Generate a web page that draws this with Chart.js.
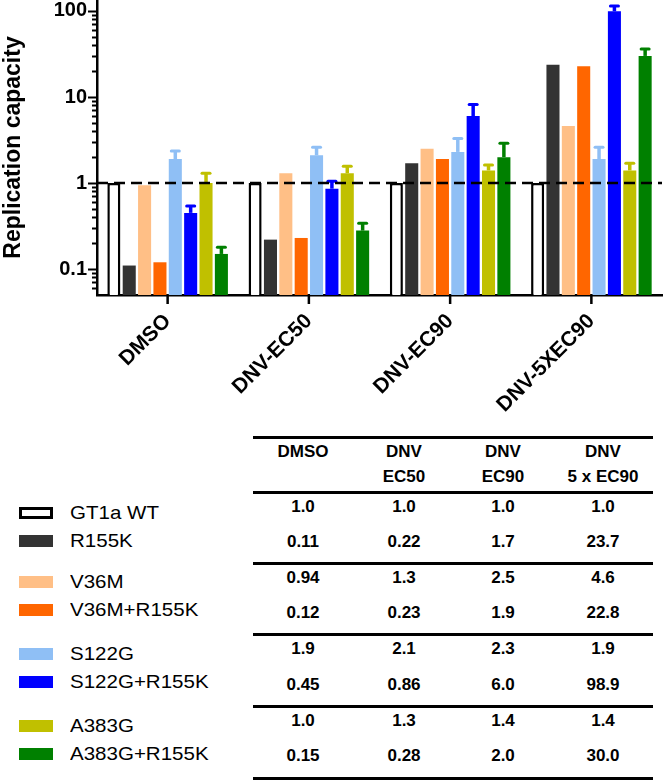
<!DOCTYPE html>
<html>
<head>
<meta charset="utf-8">
<script src="https://cdn.jsdelivr.net/npm/chart.js@4.4.1/dist/chart.umd.min.js"></script>
<style>
  body { margin: 0; background: #fff; font-family: "Liberation Sans", Arial, sans-serif; color: #000; }
  #wrap { position: relative; width: 666px; height: 781px; overflow: hidden; }
  #chart { position: absolute; left: 0; top: 0; }
  .rule { position: absolute; left: 253px; width: 400px; height: 3px; background: #000; }
  .cell { position: absolute; width: 110px; margin-left: -55px; text-align: center; font-weight: bold; font-size: 17px; line-height: 20px; }
  .sw { position: absolute; left: 19px; width: 34px; height: 12px; box-sizing: border-box; }
  .lab { position: absolute; left: 70px; font-size: 19px; line-height: 20px; white-space: nowrap;
         transform: scaleX(1.08); transform-origin: left center; }
</style>
</head>
<body>
<div id="wrap">
  <canvas id="chart" width="666" height="435"></canvas>
  <div id="table"></div>
</div>
<script>
// categories and series
const categories = ["DMSO", "DNV-EC50", "DNV-EC90", "DNV-5XEC90"];
const tableHeaders = [["DMSO"], ["DNV", "EC50"], ["DNV", "EC90"], ["DNV", "5 x EC90"]];

const gt1aWT      = [1.0, 1.0, 1.0, 1.0];
const r155k       = [0.11, 0.22, 1.7, 23.7];
const v36m        = [0.94, 1.3, 2.5, 4.6];
const v36mR155k   = [0.12, 0.23, 1.9, 22.8];
const s122g       = [1.9, 2.1, 2.3, 1.9];
const s122gR155k  = [0.45, 0.86, 6.0, 98.9];
const a383g       = [1.0, 1.3, 1.4, 1.4];
const a383gR155k  = [0.15, 0.28, 2.0, 30.0];

// upper end of error bars
const s122gErr      = [2.35, 2.6, 3.3, 2.6];
const s122gR155kErr = [0.54, 1.05, 8.2, 114];
const a383gErr      = [1.3, 1.57, 1.62, 1.7];
const a383gR155kErr = [0.18, 0.34, 2.9, 36];

const yMajor = [0.1, 1, 10, 100];
const yMinor = [0.06, 0.07, 0.08, 0.09, 0.2, 0.3, 0.4, 0.5, 0.6, 0.7, 0.8, 0.9,
                2, 3, 4, 5, 6, 7, 8, 9, 20, 30, 40, 50, 60, 70, 80, 90];

const FONT = "'Liberation Sans', Arial, sans-serif";
Chart.defaults.font.family = FONT;
Chart.defaults.color = '#000';

const series = [
  { label: 'GT1a WT',     data: gt1aWT,     color: '#ffffff', border: '#000000' },
  { label: 'R155K',       data: r155k,      color: '#333333' },
  { label: 'V36M',        data: v36m,       color: '#ffbf86' },
  { label: 'V36M+R155K',  data: v36mR155k,  color: '#ff6600' },
  { label: 'S122G',       data: s122g,      color: '#8fbff5', err: s122gErr },
  { label: 'S122G+R155K', data: s122gR155k, color: '#0000ff', err: s122gR155kErr },
  { label: 'A383G',       data: a383g,      color: '#c0c000', err: a383gErr },
  { label: 'A383G+R155K', data: a383gR155k, color: '#008000', err: a383gR155kErr }
];

// error bars, dashed line at 1 and the tick marks
const extras = {
  id: 'extras',
  afterDatasetsDraw(chart) {
    const ctx = chart.ctx, xs = chart.scales.x, ys = chart.scales.y, area = chart.chartArea;
    ctx.save();
    chart.data.datasets.forEach((ds, i) => {
      if (!ds.errTop) return;
      chart.getDatasetMeta(i).data.forEach((bar, j) => {
        const top = ys.getPixelForValue(ds.errTop[j]);
        ctx.strokeStyle = ds.backgroundColor;
        ctx.lineWidth = 3.5;
        ctx.beginPath(); ctx.moveTo(bar.x, bar.y); ctx.lineTo(bar.x, top); ctx.stroke();
        ctx.lineWidth = 3;
        ctx.lineCap = 'round';
        ctx.beginPath(); ctx.moveTo(bar.x - 4, top); ctx.lineTo(bar.x + 4, top); ctx.stroke();
        ctx.lineCap = 'butt';
      });
    });

    const y1 = ys.getPixelForValue(1);
    ctx.strokeStyle = '#000';
    ctx.lineWidth = 2.5;
    ctx.setLineDash([11, 6]);
    ctx.beginPath(); ctx.moveTo(area.left, y1); ctx.lineTo(area.right, y1); ctx.stroke();
    ctx.setLineDash([]);

    ctx.lineWidth = 2;
    yMajor.concat(yMinor).forEach(v => {
      const py = Math.round(ys.getPixelForValue(v)) + 0.5;
      const len = yMajor.includes(v) ? 9 : 5;
      ctx.beginPath(); ctx.moveTo(area.left, py); ctx.lineTo(area.left - len, py); ctx.stroke();
    });
    ctx.lineWidth = 2.5;
    categories.forEach((c, i) => {
      const px = xs.getPixelForValue(i);
      ctx.beginPath(); ctx.moveTo(px, area.bottom); ctx.lineTo(px, area.bottom + 9); ctx.stroke();
    });
    ctx.restore();
  }
};

new Chart(document.getElementById('chart'), {
  type: 'bar',
  data: {
    labels: categories,
    datasets: series.map(s => ({
      label: s.label,
      data: s.data,
      errTop: s.err,
      backgroundColor: s.color,
      borderColor: s.border || s.color,
      borderWidth: s.border ? 2.5 : 0
    }))
  },
  options: {
    responsive: false,
    animation: false,
    layout: { padding: { left: 0, right: 4, top: 0, bottom: 0 } },
    datasets: { bar: { categoryPercentage: 0.87, barPercentage: 0.85 } },
    plugins: { legend: { display: false }, tooltip: { enabled: false } },
    scales: {
      x: {
        grid: { display: false, drawTicks: false },
        border: { color: '#000', width: 2.5 },
        ticks: { autoSkip: false, minRotation: 45, maxRotation: 45, padding: 14,
                 font: { size: 21, weight: 'bold' } },
        afterFit(s) { s.height = 140; s.paddingLeft = 0; s.paddingRight = 0; }
      },
      y: {
        type: 'logarithmic',
        min: 0.05,
        max: 134,
        grid: { display: false, drawTicks: false },
        border: { color: '#000', width: 2.5 },
        ticks: { autoSkip: false, padding: 10, font: { size: 20, weight: 'bold' },
                 callback: v => yMajor.includes(v) ? String(v) : '' },
        afterBuildTicks(s) { s.ticks = yMajor.map(v => ({ value: v })); },
        title: { display: true, text: 'Replication capacity', padding: 0,
                 font: { size: 23, weight: 'bold' } },
        afterFit(s) { s.width = 97; s.paddingTop = 0; s.paddingBottom = 0; }
      }
    }
  },
  plugins: [extras]
});

// table and legend below the chart
const fmt = v => v < 1 ? v.toFixed(2) : v.toFixed(1);
const colX = [303, 404, 503, 603];
const rowY = [507, 542, 578, 613, 649, 685, 721, 756];
const legY = [513, 541, 582, 610, 654, 682, 726, 754];
const rules = [437, 492, 563, 634, 706, 778];
const tbl = document.getElementById('table');
let html = '';
rules.forEach(y => { html += `<div class="rule" style="top:${y - 1.5}px"></div>`; });
tableHeaders.forEach((h, c) => {
  h.forEach((t, k) => { html += `<div class="cell" style="left:${colX[c]}px;top:${442 + k * 25}px">${t}</div>`; });
});
series.forEach((s, r) => {
  s.data.forEach((v, c) => {
    html += `<div class="cell" style="left:${colX[c]}px;top:${rowY[r] - 10}px">${fmt(v)}</div>`;
  });
  const sw = s.border ? `background:#fff;border:3px solid #000;` : `background:${s.color};`;
  html += `<div class="sw" style="top:${legY[r] - 6}px;${sw}"></div>`;
  html += `<div class="lab" style="top:${legY[r] - 10}px">${s.label}</div>`;
});
tbl.innerHTML = html;
</script>
</body>
</html>
